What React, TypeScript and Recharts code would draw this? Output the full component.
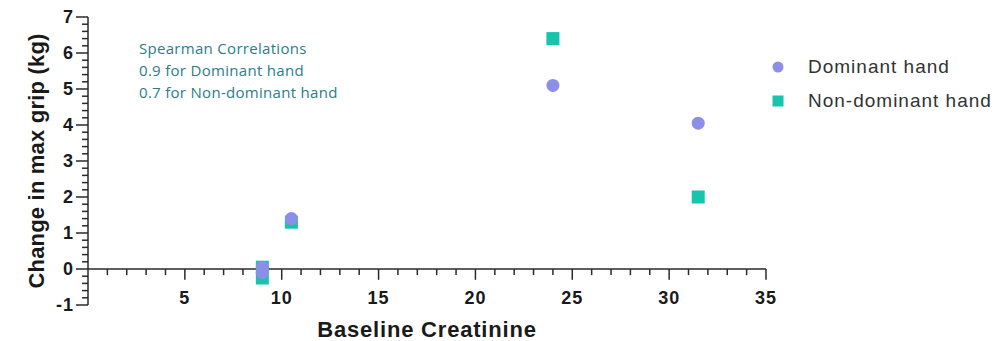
import React from 'react';
import { ScatterChart, Scatter, XAxis, YAxis, ReferenceLine, Legend } from 'recharts';

// ---- data ----
const seriesNames = ['Dominant hand', 'Non-dominant hand'];
const xDominant = [9, 9, 10.5, 24, 31.5];
const yDominant = [0.05, -0.1, 1.4, 5.1, 4.05];
const xNonDominant = [9, 9, 10.5, 24, 31.5];
const yNonDominant = [0.05, -0.25, 1.3, 6.4, 2.0];

const xTickLabels = [5, 10, 15, 20, 25, 30, 35];
const yTickLabels = [-1, 0, 1, 2, 3, 4, 5, 6, 7];
const xDomain = [0, 35];
const yDomain = [-1, 7];
const xMinorStep = 1;
const yMinorStep = 0.2;

const xTitle = 'Baseline Creatinine';
const yTitle = 'Change in max grip (kg)';
const annotationLines = ['Spearman Correlations', '0.9 for Dominant hand', '0.7 for Non-dominant hand'];

// ---- derived ----
const dominantData = xDominant.map((x, i) => ({ x, y: yDominant[i] }));
const nonDominantData = xNonDominant.map((x, i) => ({ x, y: yNonDominant[i] }));

const xMinorTicks: number[] = [];
for (let v = xDomain[0] + xMinorStep; v <= xDomain[1] + 1e-9; v += xMinorStep) xMinorTicks.push(Math.round(v * 10) / 10);
const yAllTicks: number[] = [];
for (let k = 0; k <= Math.round((yDomain[1] - yDomain[0]) / yMinorStep); k++) {
  yAllTicks.push(Math.round((yDomain[0] + k * yMinorStep) * 10) / 10);
}

const COLOR_DOM = '#8b8fe8';
const COLOR_NON = '#17c4ac';
const AXIS = '#2a2a2a';
const TICK_FONT = { fontFamily: '"Liberation Sans", Arial, sans-serif', fontWeight: 700, fontSize: 18, fill: '#1a1a1a', letterSpacing: 1 };

const YTick = (props: any) => {
  const { x, y, payload } = props;
  const v = payload.value;
  const isMajor = yTickLabels.includes(v);
  const len = isMajor ? 12 : 6;
  return (
    <g>
      <line x1={x - len} x2={x} y1={y} y2={y} stroke={AXIS} strokeWidth={1.5} />
      {isMajor && (
        <text x={x - 14} y={y} textAnchor="end" dominantBaseline="central" style={TICK_FONT as any}>
          {v}
        </text>
      )}
    </g>
  );
};

const XTick = (props: any) => {
  const { x, y, payload } = props;
  return (
    <text x={x} y={y - 1} textAnchor="middle" style={TICK_FONT as any}>
      {payload.value}
    </text>
  );
};

const TITLE_STYLE = { fontFamily: '"Liberation Sans", Arial, sans-serif', fontWeight: 700, fontSize: 22, fill: '#1a1a1a', letterSpacing: 0.8 };

const XTitle = (props: any) => {
  const vb = props.viewBox;
  return (
    <text x={vb.x + vb.width / 2} y={vb.y + 24} textAnchor="middle" dominantBaseline="central" style={TITLE_STYLE as any}>
      {xTitle}
    </text>
  );
};

const YTitle = (props: any) => {
  const vb = props.viewBox;
  const cx = vb.x + 36;
  const cy = vb.y + vb.height / 2;
  return (
    <text
      x={cx}
      y={cy}
      textAnchor="middle"
      dominantBaseline="central"
      transform={`rotate(-90, ${cx}, ${cy})`}
      style={{ ...(TITLE_STYLE as any), letterSpacing: 0.2 }}
    >
      {yTitle}
    </text>
  );
};

const CircleShape = (props: any) => <circle cx={props.cx} cy={props.cy} r={6.5} fill={COLOR_DOM} />;
const SquareShape = (props: any) => <rect x={props.cx - 6.5} y={props.cy - 6.5} width={13} height={13} fill={COLOR_NON} />;

const renderLegend = (props: any) => {
  const payload = [...(props.payload || [])].sort(
    (a: any, b: any) => seriesNames.indexOf(a.value) - seriesNames.indexOf(b.value)
  );
  return (
    <div>
      {payload.map((p: any) => (
        <div key={p.value} style={{ display: 'flex', alignItems: 'center', height: 34 }}>
          <svg width={12} height={12} style={{ flex: 'none' }}>
            {p.value === seriesNames[0] ? (
              <circle cx={6} cy={6} r={5.5} fill={COLOR_DOM} />
            ) : (
              <rect x={0.5} y={0.5} width={11} height={11} fill={COLOR_NON} />
            )}
          </svg>
          <span
            style={{
              marginLeft: 24,
              fontFamily: '"Liberation Sans", Arial, sans-serif',
              fontSize: 19,
              color: '#333',
              letterSpacing: 1,
              whiteSpace: 'nowrap',
            }}
          >
            {p.value}
          </span>
        </div>
      ))}
    </div>
  );
};

export default function App() {
  return (
    <div style={{ position: 'absolute', left: 0, top: 0, width: 1007, height: 341, background: '#fff' }}>
      <ScatterChart width={1007} height={341} margin={{ top: 17, right: 241, bottom: 0, left: 0 }}>
        <XAxis
          type="number"
          dataKey="x"
          domain={xDomain}
          ticks={xTickLabels}
          interval={0}
          axisLine={false}
          tickLine={false}
          tickSize={0}
          tickMargin={0}
          height={36}
          tick={<XTick />}
          label={{ content: <XTitle /> }}
        />
        <YAxis
          type="number"
          dataKey="y"
          domain={yDomain}
          ticks={yAllTicks}
          interval={0}
          axisLine={{ stroke: AXIS, strokeWidth: 1.5 }}
          tickLine={false}
          tickSize={0}
          tickMargin={0}
          width={88}
          tick={<YTick />}
          label={{ content: <YTitle /> }}
        />
        <ReferenceLine y={0} stroke={AXIS} strokeWidth={1.5} />
        {xMinorTicks.map((v) => (
          <ReferenceLine
            key={'xt' + v}
            segment={[
              { x: v, y: 0 },
              { x: v, y: xTickLabels.includes(v) ? -0.3 : -0.17 },
            ]}
            stroke={AXIS}
            strokeWidth={1.5}
          />
        ))}
        <Scatter name={seriesNames[1]} data={nonDominantData} fill={COLOR_NON} legendType="square" shape={SquareShape} isAnimationActive={false} />
        <Scatter name={seriesNames[0]} data={dominantData} fill={COLOR_DOM} legendType="circle" shape={CircleShape} isAnimationActive={false} />
        <Legend
          layout="vertical"
          align="center"
          verticalAlign="middle"
          content={renderLegend}
          wrapperStyle={{ position: 'absolute', left: 772, top: 50, width: 235, height: 70 }}
        />
      </ScatterChart>
      <div
        style={{
          position: 'absolute',
          left: 139,
          top: 37,
          fontFamily: '"Open Sans", sans-serif',
          fontSize: 15,
          lineHeight: '22px',
          letterSpacing: 0.3,
          color: '#2a7d8a',
          whiteSpace: 'nowrap',
        }}
      >
        {annotationLines.map((t, i) => (
          <div key={i} style={{ fontWeight: i === 0 ? 500 : 400 }}>{t}</div>
        ))}
      </div>
    </div>
  );
}
